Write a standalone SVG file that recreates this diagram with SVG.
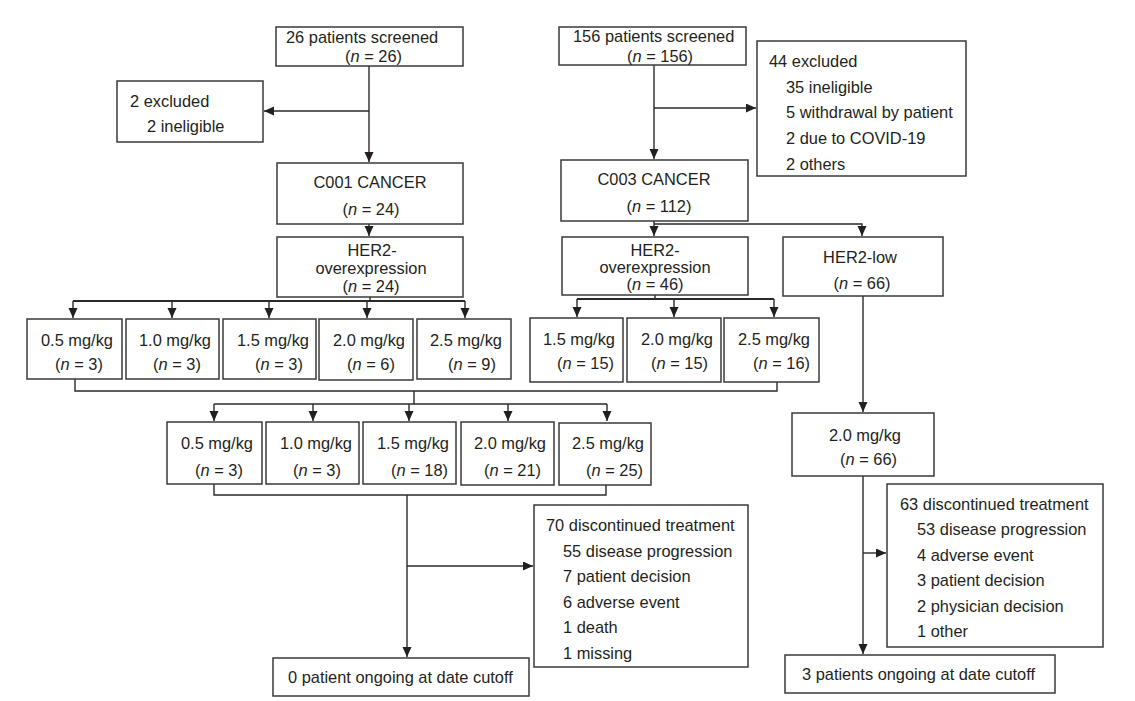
<svg xmlns="http://www.w3.org/2000/svg" width="1135" height="701" viewBox="0 0 1135 701">
<style>
  .box{fill:#fff;stroke:#3a3a3a;stroke-width:1.5}
  .t{font-family:"Liberation Sans",Arial,sans-serif;font-size:16.4px;fill:#231f20}
  .c{text-anchor:middle}
  .ln{fill:none;stroke:#2a2a2a;stroke-width:1.4}
  .bar{fill:none;stroke:#2a2a2a;stroke-width:2.2}
  .i{font-style:italic}
</style>
<defs>
  <marker id="ah" markerUnits="userSpaceOnUse" markerWidth="10" markerHeight="10" refX="10" refY="4.5" orient="auto">
    <path d="M0,0 L10,4.5 L0,9 z" fill="#231f20"/>
  </marker>
</defs>
<rect width="1135" height="701" fill="#fff"/>

<g id="connectors">
  <!-- C001 side -->
  <path class="ln" d="M369,66 V162" marker-end="url(#ah)"/>
  <path class="ln" d="M369,111 H264" marker-end="url(#ah)"/>
  <path class="ln" d="M369,224 V236" marker-end="url(#ah)"/>
  <path class="ln" d="M370,297 V301"/>
  <path class="bar" d="M73,301 H465"/>
  <path class="ln" d="M73,301 V318" marker-end="url(#ah)"/>
  <path class="ln" d="M172,301 V318" marker-end="url(#ah)"/>
  <path class="ln" d="M269,301 V318" marker-end="url(#ah)"/>
  <path class="ln" d="M367,301 V318" marker-end="url(#ah)"/>
  <path class="ln" d="M465,301 V318" marker-end="url(#ah)"/>
  <path class="ln" d="M75,379 V391 H777 V382"/>
  <path class="ln" d="M414,391 V404"/>
  <path class="ln" d="M214,404 H607"/>
  <path class="ln" d="M214,404 V421" marker-end="url(#ah)"/>
  <path class="ln" d="M313,404 V421" marker-end="url(#ah)"/>
  <path class="ln" d="M409,404 V421" marker-end="url(#ah)"/>
  <path class="ln" d="M508,404 V421" marker-end="url(#ah)"/>
  <path class="ln" d="M607,404 V421" marker-end="url(#ah)"/>
  <path class="ln" d="M214,484 V495 H606 V485"/>
  <path class="ln" d="M407,495 V657" marker-end="url(#ah)"/>
  <path class="ln" d="M407,566 H533" marker-end="url(#ah)"/>
  <!-- C003 side -->
  <path class="ln" d="M654,65 V159" marker-end="url(#ah)"/>
  <path class="ln" d="M654,108 H756" marker-end="url(#ah)"/>
  <path class="ln" d="M654,221 V236" marker-end="url(#ah)"/>
  <path class="ln" d="M654,224 H862 V236" marker-end="url(#ah)"/>
  <path class="ln" d="M655,295 V299"/>
  <path class="bar" d="M577,299 H774"/>
  <path class="ln" d="M577,299 V317" marker-end="url(#ah)"/>
  <path class="ln" d="M674,299 V317" marker-end="url(#ah)"/>
  <path class="ln" d="M774,299 V317" marker-end="url(#ah)"/>
  <path class="ln" d="M863,296 V412" marker-end="url(#ah)"/>
  <path class="ln" d="M863,476 V654" marker-end="url(#ah)"/>
  <path class="ln" d="M863,553 H886" marker-end="url(#ah)"/>
</g>

<g id="screened1"><rect class="box" x="276" y="27" width="187" height="39"/>
  <text class="t" x="286" y="43">26 patients screened</text>
  <text class="t" x="345" y="62">(<tspan class="i">n</tspan> = 26)</text></g>
<g id="excluded1"><rect class="box" x="117" y="81" width="146" height="61"/>
  <text class="t" x="130" y="107">2 excluded</text>
  <text class="t" x="147" y="132">2 ineligible</text></g>
<g id="c001"><rect class="box" x="277" y="163" width="186" height="61"/>
  <text class="t c" x="370" y="188">C001 CANCER</text>
  <text class="t c" x="371" y="215">(<tspan class="i">n</tspan> = 24)</text></g>
<g id="her2a"><rect class="box" x="277" y="237" width="186" height="60"/>
  <text class="t c" x="372" y="256">HER2-</text>
  <text class="t c" x="371" y="274">overexpression</text>
  <text class="t c" x="371" y="292">(<tspan class="i">n</tspan> = 24)</text></g>

<g id="a05"><rect class="box" x="27" y="319" width="95" height="60"/>
  <text class="t" x="41" y="346">0.5 mg/kg</text><text class="t" x="55" y="370">(<tspan class="i">n</tspan> = 3)</text></g>
<g id="a10"><rect class="box" x="126" y="319" width="93" height="60"/>
  <text class="t" x="139" y="346">1.0 mg/kg</text><text class="t" x="153" y="370">(<tspan class="i">n</tspan> = 3)</text></g>
<g id="a15"><rect class="box" x="223" y="319" width="93" height="60"/>
  <text class="t" x="237" y="346">1.5 mg/kg</text><text class="t" x="255" y="370">(<tspan class="i">n</tspan> = 3)</text></g>
<g id="a20"><rect class="box" x="319" y="319" width="94" height="61"/>
  <text class="t" x="333" y="346">2.0 mg/kg</text><text class="t" x="347" y="370">(<tspan class="i">n</tspan> = 6)</text></g>
<g id="a25"><rect class="box" x="417" y="319" width="94" height="60"/>
  <text class="t" x="430" y="346">2.5 mg/kg</text><text class="t" x="448" y="370">(<tspan class="i">n</tspan> = 9)</text></g>

<g id="screened2"><rect class="box" x="559" y="27" width="187" height="38"/>
  <text class="t" x="573" y="42">156 patients screened</text>
  <text class="t" x="627" y="62">(<tspan class="i">n</tspan> = 156)</text></g>
<g id="excluded2"><rect class="box" x="757" y="41" width="209" height="135"/>
  <text class="t" x="769" y="67">44 excluded</text>
  <text class="t" x="786" y="93">35 ineligible</text>
  <text class="t" x="786" y="118">5 withdrawal by patient</text>
  <text class="t" x="786" y="144">2 due to COVID-19</text>
  <text class="t" x="786" y="170">2 others</text></g>
<g id="c003"><rect class="box" x="561" y="160" width="187" height="61"/>
  <text class="t c" x="654" y="185">C003 CANCER</text>
  <text class="t c" x="659" y="212">(<tspan class="i">n</tspan> = 112)</text></g>
<g id="her2b"><rect class="box" x="562" y="237" width="186" height="58"/>
  <text class="t c" x="655" y="256">HER2-</text>
  <text class="t c" x="655" y="273">overexpression</text>
  <text class="t c" x="655" y="290">(<tspan class="i">n</tspan> = 46)</text></g>
<g id="her2low"><rect class="box" x="783" y="237" width="160" height="59"/>
  <text class="t c" x="860" y="263">HER2-low</text>
  <text class="t c" x="862" y="289">(<tspan class="i">n</tspan> = 66)</text></g>

<g id="b15"><rect class="box" x="530" y="318" width="93" height="64"/>
  <text class="t" x="543" y="345">1.5 mg/kg</text><text class="t" x="557" y="369">(<tspan class="i">n</tspan> = 15)</text></g>
<g id="b20"><rect class="box" x="627" y="318" width="94" height="64"/>
  <text class="t" x="641" y="345">2.0 mg/kg</text><text class="t" x="651" y="369">(<tspan class="i">n</tspan> = 15)</text></g>
<g id="b25"><rect class="box" x="724" y="318" width="95" height="64"/>
  <text class="t" x="738" y="345">2.5 mg/kg</text><text class="t" x="753" y="369">(<tspan class="i">n</tspan> = 16)</text></g>

<g id="c05"><rect class="box" x="167" y="422" width="95" height="62"/>
  <text class="t" x="181" y="449">0.5 mg/kg</text><text class="t" x="195" y="476">(<tspan class="i">n</tspan> = 3)</text></g>
<g id="c10"><rect class="box" x="266" y="422" width="93" height="62"/>
  <text class="t" x="280" y="449">1.0 mg/kg</text><text class="t" x="293" y="476">(<tspan class="i">n</tspan> = 3)</text></g>
<g id="c15"><rect class="box" x="363" y="422" width="93" height="62"/>
  <text class="t" x="377" y="449">1.5 mg/kg</text><text class="t" x="391" y="476">(<tspan class="i">n</tspan> = 18)</text></g>
<g id="c20"><rect class="box" x="461" y="422" width="93" height="63"/>
  <text class="t" x="474" y="449">2.0 mg/kg</text><text class="t" x="484" y="476">(<tspan class="i">n</tspan> = 21)</text></g>
<g id="c25"><rect class="box" x="559" y="423" width="92" height="62"/>
  <text class="t" x="572" y="449">2.5 mg/kg</text><text class="t" x="586" y="476">(<tspan class="i">n</tspan> = 25)</text></g>

<g id="disc70"><rect class="box" x="534" y="505" width="214" height="162"/>
  <text class="t" x="546" y="531">70 discontinued treatment</text>
  <text class="t" x="563" y="557">55 disease progression</text>
  <text class="t" x="563" y="582">7 patient decision</text>
  <text class="t" x="563" y="608">6 adverse event</text>
  <text class="t" x="563" y="633">1 death</text>
  <text class="t" x="563" y="659">1 missing</text></g>
<g id="ongoing0"><rect class="box" x="273" y="658" width="256" height="38"/>
  <text class="t" x="288" y="683">0 patient ongoing at date cutoff</text></g>

<g id="d66"><rect class="box" x="792" y="413" width="142" height="63"/>
  <text class="t" x="829" y="441">2.0 mg/kg</text>
  <text class="t" x="840" y="465">(<tspan class="i">n</tspan> = 66)</text></g>
<g id="disc63"><rect class="box" x="887" y="484" width="216" height="163"/>
  <text class="t" x="900" y="510">63 discontinued treatment</text>
  <text class="t" x="917" y="535">53 disease progression</text>
  <text class="t" x="917" y="561">4 adverse event</text>
  <text class="t" x="917" y="586">3 patient decision</text>
  <text class="t" x="917" y="612">2 physician decision</text>
  <text class="t" x="917" y="637">1 other</text></g>
<g id="ongoing3"><rect class="box" x="785" y="655" width="270" height="38"/>
  <text class="t" x="802" y="680">3 patients ongoing at date cutoff</text></g>
</svg>
